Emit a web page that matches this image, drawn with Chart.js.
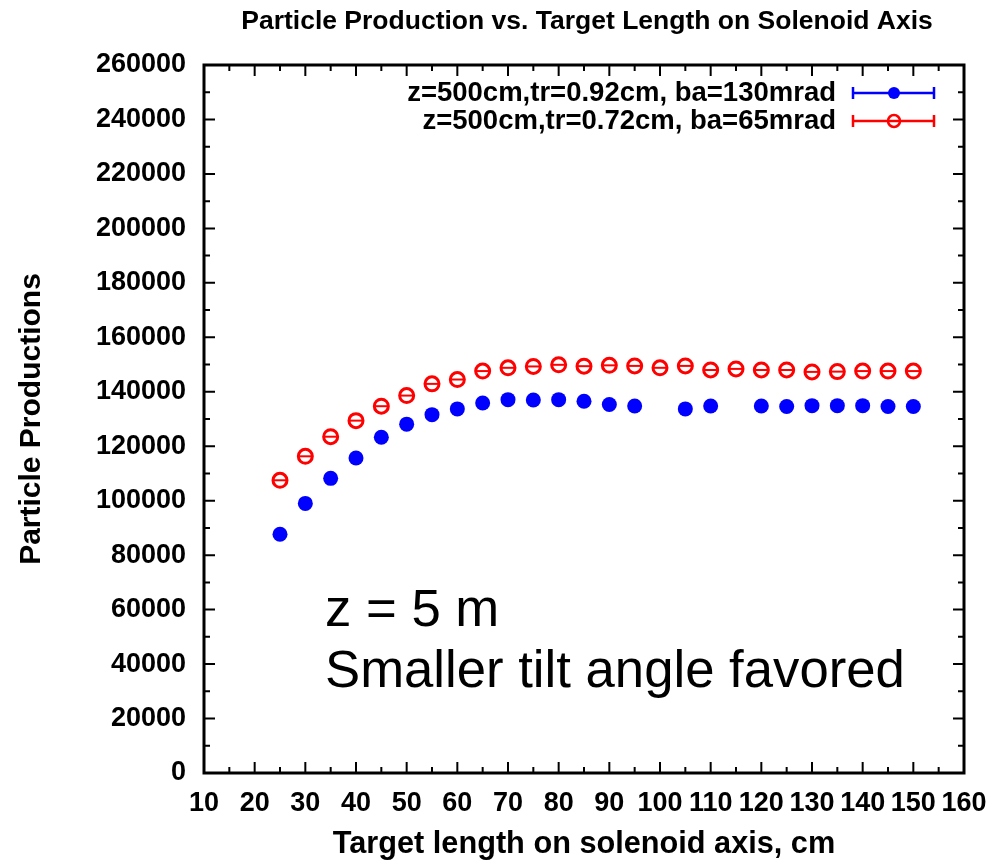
<!DOCTYPE html>
<html>
<head>
<meta charset="utf-8">
<script src="https://cdn.jsdelivr.net/npm/chart.js@4/dist/chart.umd.min.js"></script>
<style>
  html, body { margin: 0; padding: 0; background: #fff; }
  #wrap { width: 1004px; height: 864px; }
</style>
</head>
<body>
<div id="wrap"><canvas id="chart"></canvas></div>
<script>
// target length on solenoid axis (cm)
const lengths = [25, 30, 35, 40, 45, 50, 55, 60, 65, 70, 75, 80, 85, 90, 95, 100,
  105, 110, 115, 120, 125, 130, 135, 140, 145, 150];
// z=500cm, tr=0.92cm, ba=130mrad (no points at 100 and 115)
const blueValues = [87700, 99000, 108200, 115700, 123300, 128100, 131600, 133700, 135900, 137100,
  137000, 137100, 136500, 135300, 134800, null, 133700, 134800, null, 134800,
  134600, 134900, 134900, 134900, 134600, 134600];
// z=500cm, tr=0.72cm, ba=65mrad
const redValues = [107500, 116300, 123500, 129400, 134700, 138600, 142900, 144500, 147600, 148800,
  149300, 149900, 149400, 149700, 149500, 148800, 149500, 148000, 148400, 148000,
  148000, 147300, 147400, 147600, 147600, 147600];
const seriesLabels = ["z=500cm,tr=0.92cm, ba=130mrad", "z=500cm,tr=0.72cm, ba=65mrad"];
const seriesColors = ["#0000ff", "#ff0000"];
const chartTitle = "Particle Production vs. Target Length on Solenoid Axis";
const noteLines = ["z = 5 m", "Smaller tilt angle favored"];

function toPoints(vals) {
  const pts = [];
  vals.forEach((v, i) => { if (v !== null) pts.push({ x: lengths[i], y: v }); });
  return pts;
}

const FONT = "'Liberation Sans', Arial, Helvetica, sans-serif";

// frame, inward ticks, title, legend and note
const decor = {
  id: "decor",
  afterDatasetsDraw(chart) {
    const ctx = chart.ctx;
    const a = chart.chartArea;
    const xs = chart.scales.x, ys = chart.scales.y;
    ctx.save();

    // horizontal strokes inside the red circles
    const red = chart.getDatasetMeta(1);
    ctx.strokeStyle = seriesColors[1];
    ctx.lineWidth = 2;
    red.data.forEach(p => {
      ctx.beginPath();
      ctx.moveTo(p.x - 6, p.y);
      ctx.lineTo(p.x + 6, p.y);
      ctx.stroke();
    });

    // ticks
    ctx.strokeStyle = "#000";
    ctx.lineWidth = 2;
    for (let v = 10; v <= 160; v += 5) {
      const px = xs.getPixelForValue(v);
      const len = v % 10 === 0 ? 11 : 6;
      ctx.beginPath();
      ctx.moveTo(px, a.bottom); ctx.lineTo(px, a.bottom - len);
      ctx.moveTo(px, a.top); ctx.lineTo(px, a.top + len);
      ctx.stroke();
    }
    for (let v = 0; v <= 260000; v += 10000) {
      const py = ys.getPixelForValue(v);
      const len = v % 20000 === 0 ? 11 : 6;
      ctx.beginPath();
      ctx.moveTo(a.left, py); ctx.lineTo(a.left + len, py);
      ctx.moveTo(a.right, py); ctx.lineTo(a.right - len, py);
      ctx.stroke();
    }
    // frame
    ctx.lineWidth = 3;
    ctx.strokeRect(a.left, a.top, a.right - a.left, a.bottom - a.top);

    // title
    ctx.fillStyle = "#000";
    ctx.font = "bold 26.5px " + FONT;
    ctx.textAlign = "center";
    ctx.textBaseline = "middle";
    ctx.fillText(chartTitle, (a.left + a.right) / 2 + 3, 22);

    // legend
    ctx.font = "bold 27.5px " + FONT;
    ctx.textAlign = "right";
    const rows = [93, 121];
    rows.forEach((y, i) => {
      ctx.fillStyle = "#000";
      ctx.fillText(seriesLabels[i], 836, y);
      ctx.strokeStyle = seriesColors[i];
      ctx.lineWidth = 2.5;
      ctx.beginPath();
      ctx.moveTo(853, y); ctx.lineTo(934, y);
      ctx.moveTo(853, y - 6); ctx.lineTo(853, y + 6);
      ctx.moveTo(934, y - 6); ctx.lineTo(934, y + 6);
      ctx.stroke();
      ctx.beginPath();
      ctx.arc(894, y, 6, 0, Math.PI * 2);
      if (i === 0) {
        ctx.fillStyle = seriesColors[0];
        ctx.fill();
      } else {
        ctx.fillStyle = "#fff";
        ctx.fill();
        ctx.lineWidth = 2.5;
        ctx.stroke();
        ctx.beginPath();
        ctx.moveTo(888, y); ctx.lineTo(900, y);
        ctx.stroke();
      }
    });

    // note
    ctx.fillStyle = "#000";
    ctx.font = "52.7px " + FONT;
    ctx.textAlign = "left";
    ctx.textBaseline = "alphabetic";
    ctx.fillText(noteLines[0], 325, 626);
    ctx.fillText(noteLines[1], 325, 687);

    ctx.restore();
  }
};

new Chart(document.getElementById("chart"), {
  type: "scatter",
  data: {
    datasets: [
      {
        label: seriesLabels[0],
        data: toPoints(blueValues),
        backgroundColor: seriesColors[0],
        borderColor: seriesColors[0],
        pointRadius: 7.5,
        pointBorderWidth: 0
      },
      {
        label: seriesLabels[1],
        data: toPoints(redValues),
        backgroundColor: "#ffffff",
        borderColor: seriesColors[1],
        pointRadius: 7,
        pointBorderWidth: 3
      }
    ]
  },
  options: {
    responsive: true,
    maintainAspectRatio: false,
    animation: false,
    layout: { padding: { top: 65, right: 40, left: 0, bottom: 0 } },
    plugins: {
      legend: { display: false },
      title: { display: false },
      tooltip: { enabled: false }
    },
    scales: {
      x: {
        type: "linear",
        min: 10,
        max: 160,
        grid: { display: false, drawTicks: false },
        border: { display: false },
        ticks: {
          stepSize: 10,
          autoSkip: false,
          maxRotation: 0,
          padding: 14,
          color: "#000",
          font: { family: FONT, size: 27, weight: "bold" },
          callback: v => String(v)
        },
        title: {
          display: true,
          text: "Target length on solenoid axis, cm",
          color: "#000",
          font: { family: FONT, size: 30.7, weight: "bold" },
          padding: { top: 1, bottom: 1 }
        },
        afterFit(scale) { scale.height = 91; }
      },
      y: {
        min: 0,
        max: 260000,
        grid: { display: false, drawTicks: false },
        border: { display: false },
        ticks: {
          stepSize: 20000,
          autoSkip: false,
          padding: 18,
          color: "#000",
          font: { family: FONT, size: 27, weight: "bold" },
          callback: v => String(v)
        },
        title: {
          display: true,
          text: "Particle Productions",
          color: "#000",
          font: { family: FONT, size: 30, weight: "bold" },
          padding: { top: 14, bottom: 14 }
        },
        afterFit(scale) { scale.width = 204; }
      }
    }
  },
  plugins: [decor]
});
</script>
</body>
</html>
